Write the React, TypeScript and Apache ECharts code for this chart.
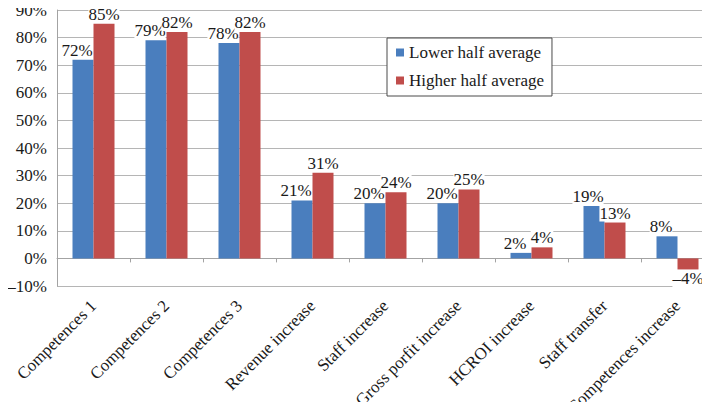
import React, { useEffect, useRef } from "react";
import * as echarts from "echarts";

const categories = [
  "Competences 1",
  "Competences 2",
  "Competences 3",
  "Revenue increase",
  "Staff increase",
  "Gross porfit increase",
  "HCROI increase",
  "Staff transfer",
  "Competences increase",
];
const lowerHalf = [72, 79, 78, 21, 20, 20, 2, 19, 8];
const higherHalf = [85, 82, 82, 31, 24, 25, 4, 13, -4];
const seriesNames = ["Lower half average", "Higher half average"];

const FONT = "Liberation Serif";
const TEXT = "#1a1a1a";

// Percent text with a dash for negative values
const pct = (v: number) => (v < 0 ? "\u2013" : "") + Math.abs(v) + "%";

// Negative bars carry their value label below the bar end
const barData = (values: number[]) =>
  values.map((v) => (v < 0 ? { value: v, label: { position: "bottom" } } : v));

// Keep every chart text in the serif face
const textCss = `.bar-chart svg text { font-family: "Liberation Serif", "Times New Roman", serif !important; }`;

export default function App() {
  const ref = useRef<HTMLDivElement>(null);

  useEffect(() => {
    if (!ref.current) return;
    const chart = echarts.init(ref.current, undefined, { renderer: "svg" });
    const labelBase = {
      show: true,
      position: "top",
      distance: 1,
      fontFamily: FONT,
      fontSize: 17,
      color: TEXT,
      backgroundColor: "#ffffff",
      formatter: (p: any) => pct(p.value),
    };
    chart.setOption({
      animation: false,
      textStyle: { fontFamily: FONT, fontSize: 17, color: TEXT },
      grid: { left: 57, top: 10, width: 657, height: 276, outerBoundsMode: "none" },
      legend: {
        data: seriesNames,
        orient: "vertical",
        left: 387,
        top: 38,
        icon: "rect",
        itemWidth: 8,
        itemHeight: 8,
        itemGap: 11,
        padding: [6, 8, 7, 9],
        borderColor: "#4a4a4a",
        borderWidth: 1,
        backgroundColor: "#ffffff",
        textStyle: { fontFamily: FONT, fontSize: 17, color: TEXT },
      },
      xAxis: {
        type: "category",
        data: categories,
        axisLine: { onZero: true, lineStyle: { color: "#a3a3a3", width: 1 } },
        axisTick: { show: true, length: 4, lineStyle: { color: "#a3a3a3" } },
        axisLabel: { rotate: 45, margin: 17, interval: 0, fontFamily: FONT, fontSize: 17, color: TEXT },
      },
      yAxis: {
        type: "value",
        min: -10,
        max: 90,
        interval: 10,
        axisLine: { show: true, lineStyle: { color: "#a3a3a3", width: 1 } },
        axisTick: { show: false },
        axisLabel: { margin: 10, fontFamily: FONT, fontSize: 17, color: TEXT, formatter: (v: number) => pct(v) },
        splitLine: { show: true, lineStyle: { color: "#b5b5b5", width: 1 } },
      },
      series: [
        {
          name: seriesNames[0],
          type: "bar",
          data: barData(lowerHalf),
          barWidth: 21,
          barGap: "0%",
          itemStyle: { color: "#4a7ebe" },
          label: { ...labelBase, offset: [-6, 0] },
        },
        {
          name: seriesNames[1],
          type: "bar",
          data: barData(higherHalf),
          barWidth: 21,
          barGap: "0%",
          itemStyle: { color: "#c04d4b" },
          label: { ...labelBase, offset: [0, 0] },
        },
      ],
    });
    return () => chart.dispose();
  }, []);

  return (
    <>
      <style>{textCss}</style>
      <div
        ref={ref}
        className="bar-chart"
        style={{ width: 710, height: 410, margin: -8, fontFamily: FONT }}
      />
    </>
  );
}
